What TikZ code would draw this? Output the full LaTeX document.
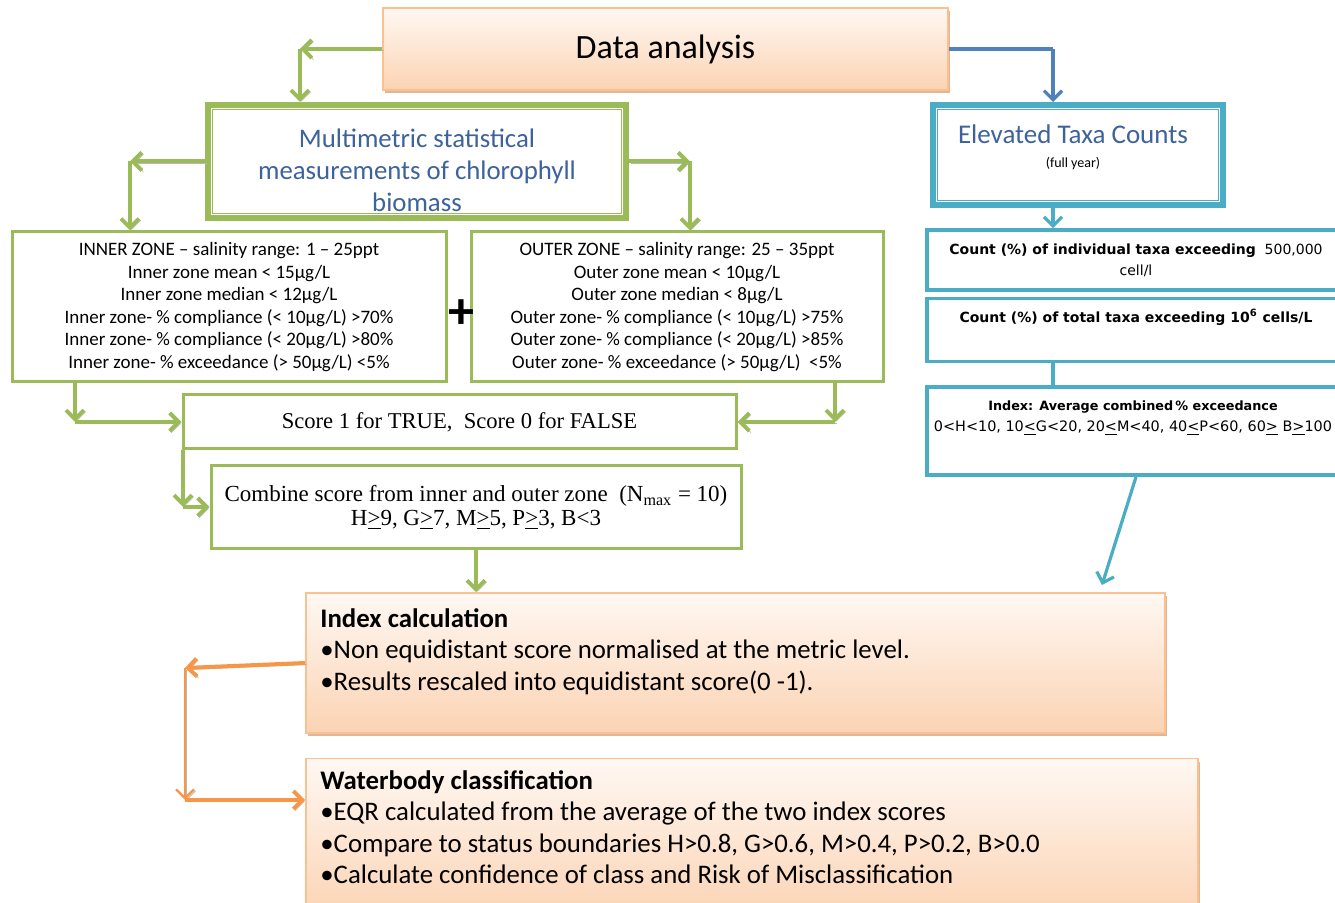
\documentclass[tikz,border=0pt]{standalone}
\usepackage{fontspec}
\setmainfont{Carlito}
\newfontfamily\serifface{Liberation Serif}
\newfontfamily\wideface{DejaVu Sans}
\usetikzlibrary{positioning, arrows.meta, shadows}
\definecolor{leaf}{HTML}{9BBB59}
\definecolor{sea}{HTML}{4BACC6}
\definecolor{sky}{HTML}{4F81BD}
\definecolor{amber}{HTML}{F79646}
\definecolor{peachline}{HTML}{FAC090}
\definecolor{peachtop}{HTML}{FFF8F3}
\definecolor{peachbot}{HTML}{FBD3B3}
\definecolor{peachshade}{HTML}{D9A27A}
\definecolor{inkblue}{HTML}{3D629C}

\begin{document}
\begin{tikzpicture}[x=0.5pt, y=-0.5pt, node distance=10pt,
    peachbox/.style={draw=peachline, line width=0.8pt, top color=peachtop, bottom color=peachbot, inner sep=0pt,
      drop shadow={shadow xshift=1.2pt, shadow yshift=-1.5pt, fill=peachshade, opacity=0.8}},
    leafbox/.style={draw=leaf, line width=1.5pt, fill=white, inner sep=0pt, align=center},
    seabox/.style={draw=sea, line width=1.8pt, fill=white, inner sep=0pt, align=center},
    leafarrow/.style={draw=leaf, line width=2pt, -{Straight Barb[length=4.5pt,width=9pt]},
      preaction={draw=black!28, transform canvas={shift={(0.8pt,-0.8pt)}}}},
    amberarrow/.style={draw=amber, line width=2pt, -{Straight Barb[length=4.5pt,width=9pt]},
      preaction={draw=black!28, transform canvas={shift={(0.8pt,-0.8pt)}}}},
    seaarrow/.style={draw=sea, line width=1.6pt, -{Straight Barb[length=4.5pt,width=9pt]}},
    skyarrow/.style={draw=sky, line width=1.6pt, -{Straight Barb[length=4.5pt,width=9pt]}},
    zonetext/.style={font=\fontsize{9.5}{11.3}\selectfont},
    countfont/.style={font=\wideface\fontsize{7}{10.5}\selectfont},
    bullettext/.style={anchor=north west, inner sep=0pt, align=left, font=\fontsize{13.4}{15.7}\selectfont}]
    \useasboundingbox (0,0) rectangle (1335,903);
    \clip (0,0) rectangle (1335,903);

    % top row
    \node[peachbox, minimum width=282.5pt, minimum height=41pt, font=\fontsize{17}{20}\selectfont] (data) at (665.5,49) {Data analysis};
    \node[leafbox, line width=3pt, minimum width=209pt, minimum height=56.5pt] (multi) at (417,161.5) {};
    \draw[leaf, line width=0.6pt] ([shift={(3.7pt,-3.7pt)}]multi.north west) rectangle ([shift={(-3.7pt,3.7pt)}]multi.south east);
    \node[text=inkblue, align=center, font=\fontsize{13.4}{16}\selectfont] (multitext) at (417,170) {Multimetric statistical\\measurements of chlorophyll\\biomass};
    \node[seabox, line width=3pt, minimum width=145pt, minimum height=50pt] (elev) at (1078,155) {};
    \draw[sea, line width=0.6pt] ([shift={(3.7pt,-3.7pt)}]elev.north west) rectangle ([shift={(-3.7pt,3.7pt)}]elev.south east);
    \node[align=center] (elevtext) at (1073,147) {{\fontsize{13.5}{15}\selectfont\color{inkblue}Elevated Taxa Counts}\\{\fontsize{7}{9}\selectfont (full year)}};

    % zones
    \node[leafbox, zonetext, minimum width=217pt, minimum height=75pt] (inner) at (229,307) {INNER ZONE – salinity range: 1 – 25ppt\\Inner zone mean < 15µg/L\\Inner zone median < 12µg/L\\Inner zone- \% compliance (< 10µg/L) >70\%\\Inner zone- \% compliance (< 20µg/L) >80\%\\Inner zone- \% exceedance (> 50µg/L) <5\%};
    \node[leafbox, zonetext, minimum width=206pt, minimum height=75pt, right=11pt of inner] (outer) {OUTER ZONE – salinity range: 25 – 35ppt\\Outer zone mean < 10µg/L\\Outer zone median < 8µg/L\\Outer zone- \% compliance (< 10µg/L) >75\%\\Outer zone- \% compliance (< 20µg/L) >85\%\\Outer zone- \% exceedance (> 50µg/L)~ <5\%};
    \node[font=\fontsize{26}{26}\bfseries\selectfont, inner sep=0pt] (plus) at (461,314) {+};
    \node[leafbox, minimum width=276.5pt, minimum height=27pt, font=\serifface\fontsize{11.3}{13}\selectfont] (score) at (459.5,422) {Score 1 for TRUE,~ Score 0 for FALSE};
    \node[leafbox, minimum width=265pt, minimum height=41.5pt, font=\serifface\fontsize{11.5}{12}\selectfont] (combine) at (476,507.5) {Combine score from inner and outer zone~ (N\textsubscript{max} = 10)\\H\underline{>}9, G\underline{>}7, M\underline{>}5, P\underline{>}3, B<3};

    % taxa counts
    \node[seabox, countfont, minimum width=209pt, minimum height=30pt] (count1) at (1136,260) {\textbf{Count (\%) of individual taxa exceeding}~ 500,000\\cell/l};
    \node[seabox, countfont, minimum width=209pt, minimum height=31.5pt, below=2.5pt of count1] (count2) {\textbf{Count (\%) of total taxa exceeding 10\textsuperscript{6} cells/L}\\[4pt]};
    \node[seabox, minimum width=209pt, minimum height=44pt, below=11pt of count2] (index) {};
    \node[align=center, font=\wideface\fontsize{7.2}{10.5}\selectfont] (indextext) at (1133,418) {{\fontsize{6.4}{10.5}\selectfont\bfseries Index: Average combined\,\% exceedance}\\0<H<10, 10\underline{<}G<20, 20\underline{<}M<40, 40\underline{<}P<60, 60\underline{>} B\underline{>}100};

    % index and classification
    \node[peachbox, minimum width=429.5pt, minimum height=70pt] (idxcalc) at (735.5,663) {};
    \node[bullettext] (idxtext) at (320,608) {\textbf{Index calculation}\\•Non equidistant score normalised at the metric level.\\•Results rescaled into equidistant score(0 -1).};
    \node[peachbox, minimum width=446pt, minimum height=80pt, below=12pt of idxcalc.south west, anchor=north west] (water) {};
    \node[bullettext] (watertext) at (320,770) {\textbf{Waterbody classification}\\•EQR calculated from the average of the two index scores\\•Compare to status boundaries H>0.8, G>0.6, M>0.4, P>0.2, B>0.0\\•Calculate confidence of class and Risk of Misclassification};

    % connectors
    \coordinate (dl) at (300,49);
    \coordinate (ml) at (130,161.5);
    \coordinate (mr) at (690,161.5);
    \coordinate (il) at (75,422);
    \coordinate (or) at (835,422);
    \coordinate (sl) at (183,507);
    \coordinate (ol) at (185,668);
    \coordinate (ob) at (185,800);
    \coordinate (dr) at (1053,49);
    \coordinate (tip) at (1102,585);

    \draw[leafarrow] (data.west) -- (dl);
    \draw[leafarrow] (dl) -- (dl |- multi.north);
    \draw[leafarrow] (multi.west) -- (ml);
    \draw[leafarrow] (ml) -- (ml |- inner.north);
    \draw[leafarrow] (multi.east) -- (mr);
    \draw[leafarrow] (mr) -- (mr |- outer.north);
    \draw[leafarrow] (inner.south -| il) -- (il);
    \draw[leafarrow] (il) -- (il -| score.west);
    \draw[leafarrow] (outer.south -| or) -- (or);
    \draw[leafarrow] (or) -- (or -| score.east);
    \draw[leafarrow] (sl |- score.south) -- (sl);
    \draw[leafarrow] (sl) -- (sl -| combine.west);
    \draw[leafarrow] (combine.south) -- (combine.south |- idxcalc.north);

    \draw[amberarrow] (idxcalc.west) -- (ol);
    \draw[amberarrow, line width=1.2pt] (ol) -- (ob);
    \draw[amberarrow] (ob) -- (ob -| water.west);

    \draw[skyarrow, -] (data.east) -- (dr);
    \draw[skyarrow] (dr) -- (dr |- elev.north);
    \draw[seaarrow] (elev.south -| dr) -- (count1.north -| dr);
    \draw[sea, line width=1.6pt] (count2.south -| dr) -- (index.north -| dr);
    \draw[seaarrow] (index.south) -- (tip);
\end{tikzpicture}
\end{document}
